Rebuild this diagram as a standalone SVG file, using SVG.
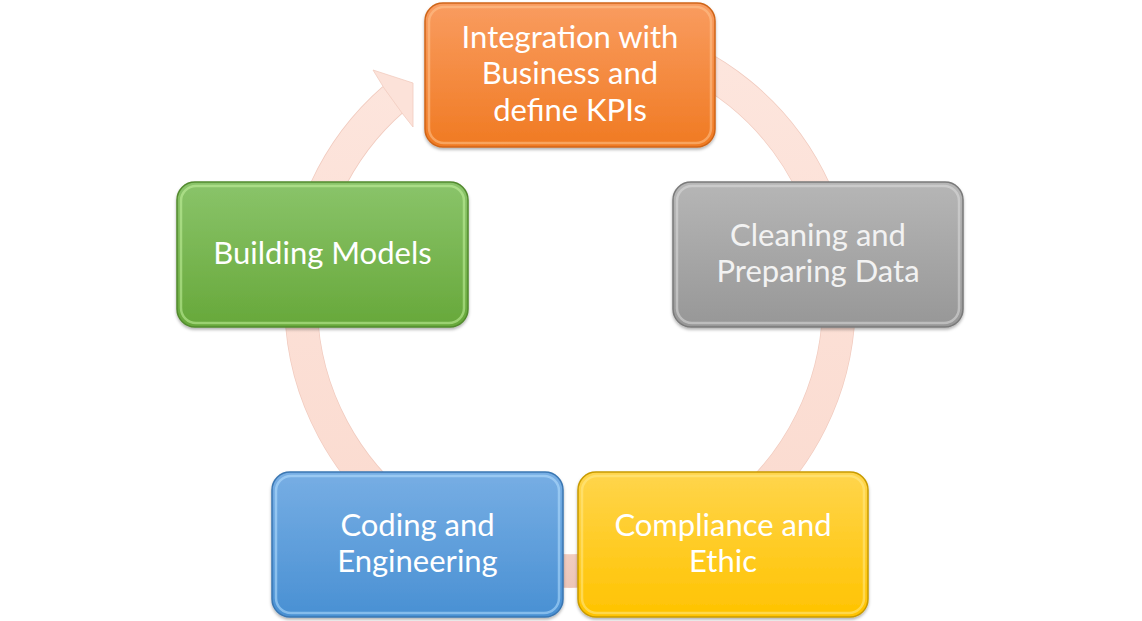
<svg xmlns="http://www.w3.org/2000/svg" width="1142" height="621" viewBox="0 0 1142 621">
<defs>
  <linearGradient id="ring" x1="0" y1="30" x2="0" y2="590" gradientUnits="userSpaceOnUse">
    <stop offset="0" stop-color="#fde6de"/>
    <stop offset="0.8" stop-color="#fbdcd1"/>
    <stop offset="1" stop-color="#ecc5b8"/>
  </linearGradient>
  <linearGradient id="gOrange" x1="0" y1="0" x2="0" y2="1">
    <stop offset="0" stop-color="#f99c60"/>
    <stop offset="1" stop-color="#f07a22"/>
  </linearGradient>
  <linearGradient id="gGreen" x1="0" y1="0" x2="0" y2="1">
    <stop offset="0" stop-color="#8ac46a"/>
    <stop offset="1" stop-color="#67a83a"/>
  </linearGradient>
  <linearGradient id="gGray" x1="0" y1="0" x2="0" y2="1">
    <stop offset="0" stop-color="#b6b6b6"/>
    <stop offset="1" stop-color="#979797"/>
  </linearGradient>
  <linearGradient id="gBlue" x1="0" y1="0" x2="0" y2="1">
    <stop offset="0" stop-color="#77aee4"/>
    <stop offset="1" stop-color="#4990d3"/>
  </linearGradient>
  <linearGradient id="gYellow" x1="0" y1="0" x2="0" y2="1">
    <stop offset="0" stop-color="#ffd54c"/>
    <stop offset="1" stop-color="#ffc300"/>
  </linearGradient>
  <filter id="shadow" x="-10%" y="-10%" width="120%" height="125%">
    <feDropShadow dx="0" dy="2" stdDeviation="1.5" flood-color="#000" flood-opacity="0.3"/>
  </filter>
</defs>
<style>
  .box { stroke-width: 1.5; filter: url(#shadow); }
  .bevel { fill: none; stroke-width: 2.5; opacity: 0.55; }
  .label { font-family: Lato, "Open Sans", "Liberation Sans", sans-serif; font-size: 31px; fill: #ffffff; text-anchor: middle; }
  .gray-label { fill: #f2f2f2; }
  .ring { fill: none; stroke: url(#ring); stroke-width: 32; }
  .ring-edge { fill: none; stroke: #f1cbbf; stroke-width: 33.5; }
  .head { fill: #fce2d9; stroke: #f1cbbf; stroke-width: 0.8; }
</style>

<g id="connectors">
  <path class="ring-edge" d="M 639.6 42.2 A 269 269 0 1 1 393.5 99.0"/>
  <path class="ring" d="M 639.6 42.2 A 269 269 0 1 1 393.5 99.0"/>
  <polygon class="head" points="384,88 373,70 413,83 413,127 402,113"/>
</g>

<g id="node-integration">
  <rect class="box" x="425" y="3" width="290" height="144" rx="18" fill="url(#gOrange)" stroke="#cf6519"/>
  <rect class="bevel" x="429" y="7" width="282" height="136" rx="15" stroke="#ffc58f"/>
  <text class="label" x="570" y="48">Integration with</text>
  <text class="label" x="570" y="84">Business and</text>
  <text class="label" x="570" y="121">define KPIs</text>
</g>

<g id="node-cleaning">
  <rect class="box" x="673" y="182" width="290" height="145" rx="18" fill="url(#gGray)" stroke="#7a7a7a"/>
  <rect class="bevel" x="677" y="186" width="282" height="137" rx="15" stroke="#dcdcdc"/>
  <text class="label gray-label" x="818" y="246">Cleaning and</text>
  <text class="label gray-label" x="818" y="282">Preparing Data</text>
</g>

<g id="node-compliance">
  <rect class="box" x="578" y="472" width="290" height="145" rx="18" fill="url(#gYellow)" stroke="#c89b00"/>
  <rect class="bevel" x="582" y="476" width="282" height="137" rx="15" stroke="#ffe98a"/>
  <text class="label" x="723" y="536">Compliance and</text>
  <text class="label" x="723" y="572">Ethic</text>
</g>

<g id="node-coding">
  <rect class="box" x="272" y="472" width="291" height="145" rx="18" fill="url(#gBlue)" stroke="#3b77b2"/>
  <rect class="bevel" x="276" y="476" width="283" height="137" rx="15" stroke="#b7e0ff"/>
  <text class="label" x="417.5" y="536">Coding and</text>
  <text class="label" x="417.5" y="572">Engineering</text>
</g>

<g id="node-building">
  <rect class="box" x="177" y="182" width="291" height="145" rx="18" fill="url(#gGreen)" stroke="#528a2e"/>
  <rect class="bevel" x="181" y="186" width="283" height="137" rx="15" stroke="#c4f29e"/>
  <text class="label" x="322.5" y="264">Building Models</text>
</g>
</svg>
